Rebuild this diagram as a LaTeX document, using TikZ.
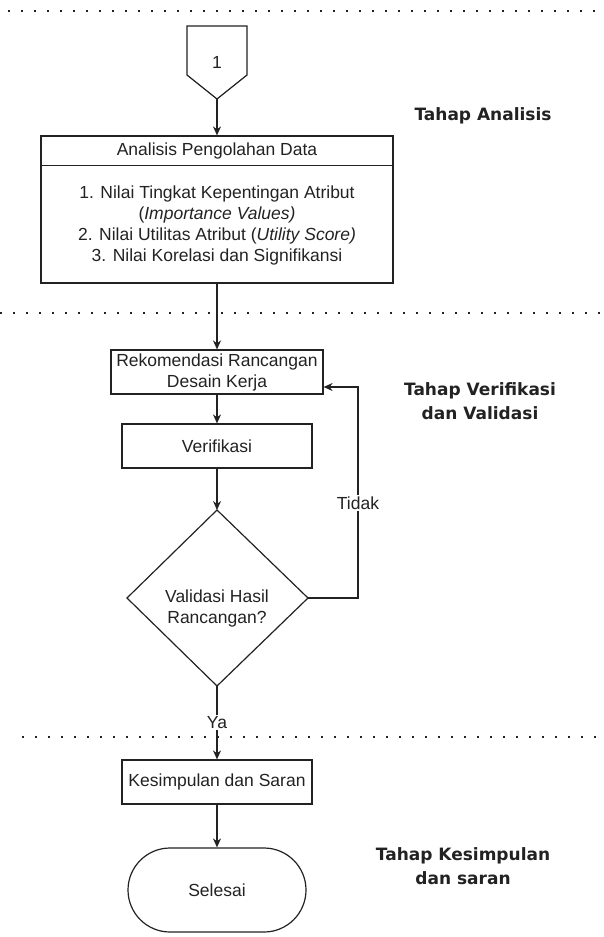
\documentclass[tikz,border=0pt]{standalone}
\usepackage{fontspec}
\setmainfont{Liberation Sans}
\newfontfamily\headfont{DejaVu Sans}
\usetikzlibrary{arrows.meta}
\definecolor{ink}{HTML}{222222}
\begin{document}
\begin{tikzpicture}[x=1pt,y=-1pt,
 every node/.style={text=ink, font=\fontsize{17.5}{21}\selectfont},
 box/.style={draw=ink, line width=1.2pt, inner sep=0pt, align=center},
 conn/.style={draw=ink, line width=1.2pt, -{Stealth[length=9pt,width=8pt]}},
 sep/.style={draw=ink, line width=2.2pt, dash pattern=on 2.2pt off 10.8pt},
 phase/.style={font=\headfont\bfseries\fontsize{17}{24}\selectfont, align=center},
 lbl/.style={fill=white, inner sep=1.5pt}
]
\useasboundingbox (0,0) rectangle (603,937);

% phase separators
\draw[sep] (8,11) -- (597,11);
\draw[sep] (0,313) -- (603,313);
\draw[sep] (22,737) -- (603,737);

% off-page connector
\draw[ink, line width=1.2pt] (187,26) -- (247,26) -- (247,75) -- (217,99) -- (187,75) -- cycle;
\node (one) at (217,62) {1};
\coordinate (ptip) at (217,99);

% analysis box
\node[box, minimum width=352pt, minimum height=147pt] (ana) at (217,209.5) {};
\path (ana.north west) ++(0,30) coordinate (dl);
\draw[ink, line width=1.2pt] (dl) -- (dl -| ana.east);
\node (anah) at (217,151) {Analisis Pengolahan Data};
\node[align=center] (anab) at (217,225) {1. Nilai Tingkat Kepentingan Atribut\\(\textit{Importance Values)}\\2. Nilai Utilitas Atribut (\textit{Utility Score)}\\3. Nilai Korelasi dan Signifikansi};

% verification part
\node[box, minimum width=212pt, minimum height=44pt] (rek) at (217,372) {Rekomendasi Rancangan\\Desain Kerja};
\node[box, minimum width=190pt, minimum height=44pt] (ver) at (217,446) {Verifikasi};
\coordinate (dT) at (217,510);
\coordinate (dR) at (308,598);
\coordinate (dB) at (217,686);
\coordinate (dL) at (127,598);
\draw[ink, line width=1.2pt] (dT) -- (dR) -- (dB) -- (dL) -- cycle;
\node[align=center] (val) at (217,608) {Validasi Hasil\\Rancangan?};

% conclusion part
\node[box, minimum width=190pt, minimum height=44pt] (kes) at (217,782) {Kesimpulan dan Saran};
\node[box, minimum width=178pt, minimum height=84pt, rounded corners=42pt] (sel) at (217,890) {Selesai};

% connectors
\draw[conn] (ptip) -- (ana.north);
\draw[conn] (ana.south) -- (rek.north);
\draw[conn] (rek.south) -- (ver.north);
\draw[conn] (ver.south) -- (dT);
\draw[conn] (dB) -- node[lbl] {Ya} (kes.north);
\draw[conn] (kes.south) -- (sel.north);
\coordinate (fb1) at (358,598);
\coordinate (fb2) at (358,387);
\draw[conn] (dR) -- (fb1) -- node[lbl, pos=0.45] {Tidak} (fb2) -- (fb2 -| rek.east);

% phase labels
\node[phase] (pa) at (483,116) {Tahap Analisis};
\node[phase] (pv) at (480,401) {Tahap Verifikasi\\dan Validasi};
\node[phase] (pk) at (463,866) {Tahap Kesimpulan\\dan saran};
\end{tikzpicture}
\end{document}
